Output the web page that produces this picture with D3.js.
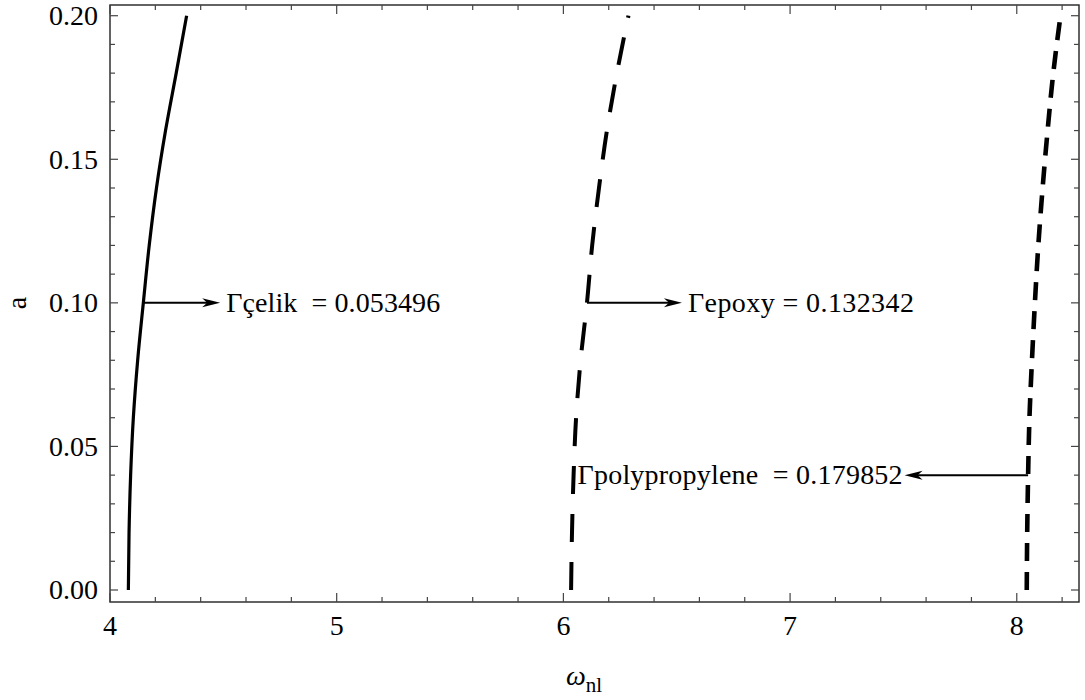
<!DOCTYPE html>
<html>
<head>
<meta charset="utf-8">
<script src="https://cdn.jsdelivr.net/npm/d3@7"></script>
<style>
  body { margin: 0; background: #fff; }
</style>
</head>
<body>
<svg id="chart" width="1085" height="700"></svg>
<script>
// Amplitude a vs. nonlinear frequency for three beam materials
const ampSteps   = [0, 0.02, 0.04, 0.06, 0.08, 0.10, 0.12, 0.14, 0.16, 0.18, 0.20];
const celikOmega = [4.081, 4.084, 4.091, 4.103, 4.122, 4.147, 4.173, 4.205, 4.245, 4.292, 4.338];
const epoxyOmega = [6.034, 6.038, 6.045, 6.056, 6.076, 6.104, 6.127, 6.157, 6.192, 6.236, 6.287];
const polyOmega  = [8.044, 8.046, 8.050, 8.056, 8.067, 8.080, 8.095, 8.114, 8.136, 8.161, 8.193];

const xMajorTicks = [4, 5, 6, 7, 8];
const yMajorTicks = [0.00, 0.05, 0.10, 0.15, 0.20];

// Annotations: arrow from the curve at (fromW, a) to (toW, a), with a label
const annoNames  = ["Γçelik\u00A0\u00A0= 0.053496", "Γepoxy = 0.132342", "Γpolypropylene\u00A0\u00A0= 0.179852"];
const annoA      = [0.10, 0.10, 0.04];
const annoFromW  = [4.147, 6.104, 8.050];
const annoToW    = [4.486, 6.523, 7.505];

(function draw() {
  const FONT = "Liberation Serif";
  const svg = d3.select("#chart");
  const pLeft = 110, pRight = 1079, pTop = 5, pBottom = 602;

  const x = d3.scaleLinear().domain([4, 8.2745]).range([pLeft, pRight]);
  const y = d3.scaleLinear().domain([-0.00418, 0.20373]).range([pBottom, pTop]);

  // Curves
  const series = [
    { w: celikOmega, dash: null,    width: 3.2 },
    { w: epoxyOmega, dash: "28,20", width: 4.0 },
    { w: polyOmega,  dash: "18,11", width: 4.6 }
  ];
  const line = d3.line()
    .x(d => x(d[0]))
    .y(d => y(d[1]))
    .curve(d3.curveMonotoneY);

  series.forEach(s => {
    const pts = ampSteps.map((a, i) => [s.w[i], a]);
    svg.append("path")
      .attr("d", line(pts))
      .attr("fill", "none")
      .attr("stroke", "#000")
      .attr("stroke-width", s.width)
      .attr("stroke-dasharray", s.dash)
      .attr("stroke-linecap", "butt");
  });

  // Frame
  svg.append("rect")
    .attr("x", pLeft).attr("y", pTop)
    .attr("width", pRight - pLeft).attr("height", pBottom - pTop)
    .attr("fill", "none").attr("stroke", "#222").attr("stroke-width", 1.4);

  // Ticks on all four sides, pointing inward
  const tickG = svg.append("g").attr("stroke", "#444").attr("stroke-width", 1.2);
  const xMinor = d3.range(4, 8.2745, 0.2).map(v => +v.toFixed(2));
  xMinor.forEach(v => {
    const major = xMajorTicks.some(m => Math.abs(m - v) < 1e-6);
    const len = major ? 9 : 5;
    tickG.append("line").attr("x1", x(v)).attr("x2", x(v)).attr("y1", pBottom).attr("y2", pBottom - len);
    tickG.append("line").attr("x1", x(v)).attr("x2", x(v)).attr("y1", pTop).attr("y2", pTop + len);
  });
  const yMinor = d3.range(0, 0.2001, 0.01).map(v => +v.toFixed(2));
  yMinor.forEach(v => {
    const major = yMajorTicks.some(m => Math.abs(m - v) < 1e-6);
    const len = major ? 8 : 5;
    tickG.append("line").attr("y1", y(v)).attr("y2", y(v)).attr("x1", pLeft).attr("x2", pLeft + len);
    tickG.append("line").attr("y1", y(v)).attr("y2", y(v)).attr("x1", pRight).attr("x2", pRight - len);
  });

  // Tick labels
  svg.selectAll("text.xt").data(xMajorTicks).enter().append("text")
    .attr("class", "xt")
    .attr("font-family", FONT)
    .attr("x", d => x(d)).attr("y", 635)
    .attr("text-anchor", "middle").attr("font-size", 28)
    .text(d => d3.format("d")(d));
  svg.selectAll("text.yt").data(yMajorTicks).enter().append("text")
    .attr("class", "yt")
    .attr("font-family", FONT)
    .attr("x", 98).attr("y", d => y(d)).attr("dy", "0.33em")
    .attr("text-anchor", "end").attr("font-size", 28)
    .text(d => d3.format(".2f")(d));

  // Axis titles
  svg.append("text")
    .attr("font-family", FONT)
    .attr("transform", "translate(26,303) rotate(-90)")
    .attr("text-anchor", "middle").attr("font-size", 28)
    .text("a");
  const xt = svg.append("text").attr("font-family", FONT)
    .attr("x", 566).attr("y", 685).attr("font-size", 28);
  xt.append("tspan").attr("font-style", "italic").text("ω");
  xt.append("tspan").attr("font-size", 21).attr("dy", 7).text("nl");

  // Arrowheads and labels
  const labelWidths = [214, 226, 325];
  const head = (tipX, tipY, dir) => {
    const L = 18, H = 4.5, N = 13;
    return `M${tipX},${tipY} L${tipX - dir * L},${tipY - H} L${tipX - dir * N},${tipY} L${tipX - dir * L},${tipY + H} Z`;
  };
  annoNames.forEach((name, i) => {
    const x0 = x(annoFromW[i]), x1 = x(annoToW[i]), yy = y(annoA[i]);
    const dir = x1 > x0 ? 1 : -1;
    svg.append("line")
      .attr("x1", x0).attr("x2", x1 - dir * 12).attr("y1", yy).attr("y2", yy)
      .attr("stroke", "#000").attr("stroke-width", 2);
    svg.append("path").attr("d", head(x1, yy, dir)).attr("fill", "#000");
    svg.append("text")
      .attr("font-family", FONT)
      .attr("x", dir > 0 ? x1 + 6 : x1 - 2 - labelWidths[i])
      .attr("y", yy + 9)
      .attr("font-size", 28)
      .attr("textLength", labelWidths[i])
      .attr("lengthAdjust", "spacing")
      .text(name);
  });
})();
</script>
</body>
</html>
